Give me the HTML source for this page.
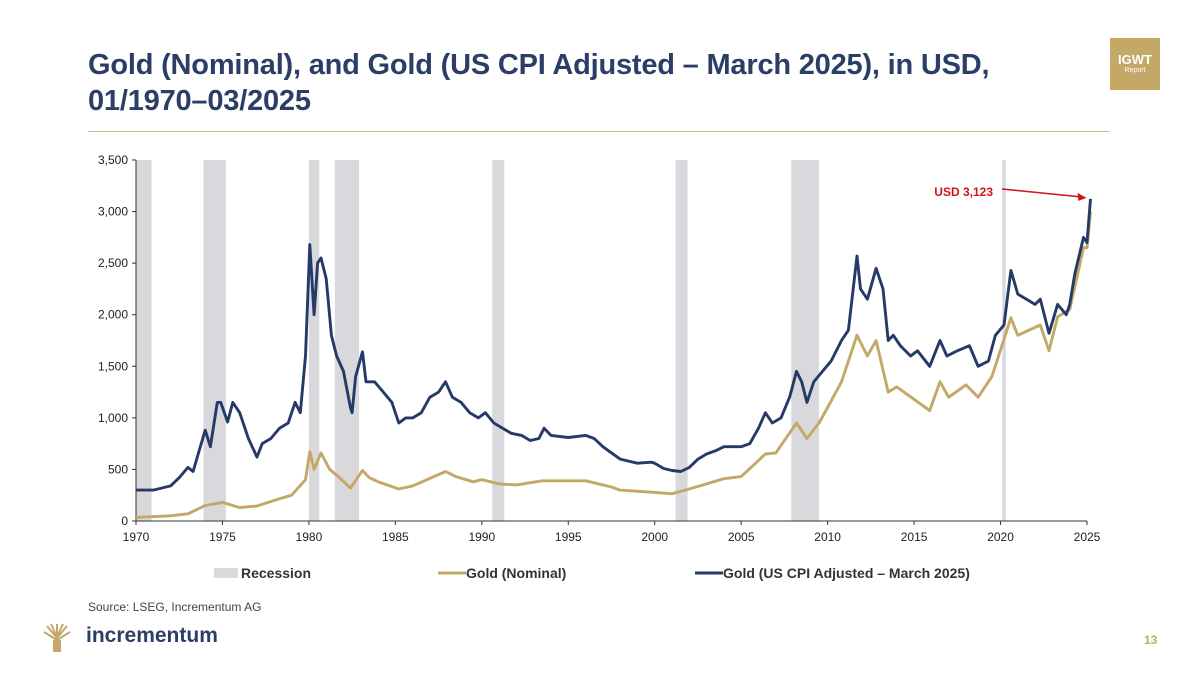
<!DOCTYPE html>
<html><head><meta charset="utf-8"><style>
body{margin:0;width:1200px;height:675px;background:#fff;font-family:"Liberation Sans",Arial,sans-serif;overflow:hidden;position:relative}
.t{position:absolute;left:88px;top:47px;font-size:29px;font-weight:bold;color:#2b3e66;line-height:36px;letter-spacing:-0.2px}
</style></head><body>
<div class="t">Gold (Nominal), and Gold (US CPI Adjusted – March 2025), in USD,<br>01/1970–03/2025</div>
<div style="position:absolute;left:1110px;top:38px;width:50px;height:52px;background:#c3a867;color:#fff;text-align:center"><div style="font-size:13px;font-weight:bold;margin-top:14px">IGWT</div><div style="font-size:7px">Report</div></div>
<div style="position:absolute;left:88px;top:131px;width:1022px;height:1px;background:#c9c29a"></div>
<svg id="c" width="1200" height="675" style="position:absolute;left:0;top:0"></svg>
<div style="position:absolute;left:88px;top:600px;font-size:12px;color:#444">Source: LSEG, Incrementum AG</div>
<div style="position:absolute;left:42px;top:622px;width:30px;height:30px">
<svg width="30" height="32"><g stroke="#c3a867" stroke-width="2" fill="none"><path d="M15 30V14M15 16L5 4M15 16L25 4M15 18L2 10M15 18L28 10M15 14V2M15 15L9 2M15 15L21 2"/></g><path d="M11 30h8v-12h-8z" fill="#c3a867"/></svg></div>
<div style="position:absolute;left:86px;top:624px;font-size:21px;font-weight:bold;color:#2b3e66">incrementum</div>
<div style="position:absolute;left:1144px;top:633px;font-size:12px;font-weight:bold;color:#c3a867">13</div>
<script>
const recessions=[[1970.0,1970.9],[1973.9,1975.2],[1980.0,1980.6],[1981.5,1982.9],[1990.6,1991.3],[2001.2,2001.9],[2007.9,2009.5],[2020.1,2020.3]];
const realT=[1970,1971,1972,1972.5,1973,1973.3,1973.6,1974,1974.3,1974.7,1974.9,1975.3,1975.6,1976,1976.5,1977,1977.3,1977.8,1978.3,1978.8,1979.2,1979.5,1979.8,1980.05,1980.3,1980.5,1980.7,1981,1981.3,1981.6,1982,1982.4,1982.5,1982.7,1983.1,1983.3,1983.8,1984.3,1984.8,1985.2,1985.6,1986,1986.5,1987,1987.5,1987.9,1988.3,1988.8,1989.3,1989.8,1990.2,1990.7,1991.2,1991.7,1992.3,1992.8,1993.3,1993.6,1994,1995,1996,1996.5,1997,1997.5,1998,1999,1999.8,2000,2000.5,2001,2001.5,2002,2002.5,2003,2003.5,2004,2005,2005.5,2006,2006.4,2006.8,2007.3,2007.8,2008.2,2008.5,2008.8,2009.2,2009.7,2010.2,2010.8,2011.2,2011.7,2011.9,2012.3,2012.8,2013.2,2013.5,2013.8,2014.2,2014.8,2015.2,2015.9,2016.5,2016.9,2017.5,2018.2,2018.7,2019.3,2019.7,2020.2,2020.6,2021,2021.5,2022,2022.3,2022.8,2023.3,2023.8,2024,2024.3,2024.8,2025,2025.2];
const realV=[300,300,340,420,520,480,650,880,720,1150,1150,960,1150,1050,800,620,750,800,900,950,1150,1050,1600,2680,2000,2500,2550,2350,1800,1600,1450,1100,1050,1400,1640,1350,1350,1250,1150,950,1000,1000,1050,1200,1250,1350,1200,1150,1050,1000,1050,950,900,850,830,780,800,900,830,810,830,800,720,660,600,560,570,560,510,490,480,520,600,650,680,720,720,750,900,1050,950,1000,1200,1450,1350,1150,1350,1450,1550,1750,1850,2570,2250,2150,2450,2250,1750,1800,1700,1600,1650,1500,1750,1600,1650,1700,1500,1550,1800,1900,2430,2200,2150,2100,2150,1820,2100,2000,2100,2400,2750,2700,3123];
const nomT=[1970,1972,1973,1974,1975,1976,1977,1978,1979,1979.8,1980.05,1980.3,1980.7,1981.2,1981.7,1982.4,1983.1,1983.5,1984,1985.2,1986,1987.9,1988.5,1989.5,1990,1991,1992,1993.5,1996,1997.5,1998,1999.7,2001,2002,2003,2004,2005,2006.4,2007,2008.2,2008.8,2009.5,2010,2010.8,2011.7,2012.3,2012.8,2013.5,2014,2015.9,2016.5,2017,2018,2018.7,2019.5,2020.6,2021,2022.3,2022.8,2023.3,2024,2024.8,2025,2025.2];
const nomV=[35,50,70,150,180,130,145,200,250,400,670,500,660,500,430,320,490,420,380,310,340,480,430,380,400,360,350,390,390,330,300,280,265,310,360,410,430,650,660,950,800,950,1100,1350,1800,1600,1750,1250,1300,1070,1350,1200,1320,1200,1400,1970,1800,1900,1650,1980,2050,2650,2650,3000];
const yTicks=[0,500,1000,1500,2000,2500,3000,3500];
const xTicks=[1970,1975,1980,1985,1990,1995,2000,2005,2010,2015,2020,2025];
const X0=136,X1=1087,Y0=521,Y1=160;
const xs=t=>X0+(t-1970)/55*(X1-X0), ys=v=>Y0-v/3500*(Y0-Y1);
const svg=document.getElementById('c');const NS='http://www.w3.org/2000/svg';
function mk(tag,a){const e=document.createElementNS(NS,tag);for(const k in a)e.setAttribute(k,a[k]);svg.appendChild(e);return e;}
recessions.forEach(r=>{const e=mk('rect',{x:xs(r[0]),y:Y1,width:Math.max(3,xs(r[1])-xs(r[0])),height:Y0-Y1,fill:'#d9d8dc'});

});
let a=mk('line',{x1:X0,y1:Y1,x2:X0,y2:Y0,stroke:'#333','stroke-width':1});
a=mk('line',{x1:X0,y1:Y0,x2:X1,y2:Y0,stroke:'#333','stroke-width':1});
yTicks.forEach(v=>{mk('line',{x1:X0-4,y1:ys(v),x2:X0,y2:ys(v),stroke:'#333'});const t=mk('text',{x:X0-8,y:ys(v)+4,'text-anchor':'end','font-size':12,fill:'#222'});t.textContent=v.toLocaleString('en-US');

});
xTicks.forEach(v=>{mk('line',{x1:xs(v),y1:Y0,x2:xs(v),y2:Y0+4,stroke:'#333'});const t=mk('text',{x:xs(v),y:Y0+20,'text-anchor':'middle','font-size':12,fill:'#222'});t.textContent=v;

});
function line(T,V,c,n){const p=mk('path',{d:T.map((t,i)=>(i?'L':'M')+xs(t).toFixed(1)+' '+ys(V[i]).toFixed(1)).join(''),fill:'none',stroke:c,'stroke-width':2.9,'stroke-linejoin':'round'});

}
line(nomT,nomV,'#c3a867','gold-nominal-line');
line(realT,realV,'#253a66','gold-real-line');
const lt=realT[realT.length-1],lv=realV[realV.length-1];
const lab=mk('text',{x:993,y:196,'text-anchor':'end','font-size':12,'font-weight':'bold',fill:'#d0121b'});lab.textContent='USD 3,123';


mk('line',{x1:1002,y1:189,x2:xs(lt)-10,y2:ys(lv)-2,stroke:'#d0121b','stroke-width':1.5});
mk('path',{d:`M${xs(lt)-4} ${ys(lv)-1}l-9 -5l1 8z`,fill:'#d0121b'});
const leg=[[214,'rect','#d9d8dc','Recession','legend-recession'],[438,'line','#c3a867','Gold (Nominal)','legend-nominal'],[695,'line','#253a66','Gold (US CPI Adjusted – March 2025)','legend-real']];
leg.forEach(l=>{if(l[1]=='rect')mk('rect',{x:l[0],y:568,width:24,height:10,fill:l[2]});else mk('line',{x1:l[0],y1:573,x2:l[0]+28,y2:573,stroke:l[2],'stroke-width':3});
const t=mk('text',{x:l[0]+(l[1]=='rect'?27:28),y:578,'font-size':14,'font-weight':'bold',fill:'#333'});t.textContent=l[3];

});
</script>
</body></html>
